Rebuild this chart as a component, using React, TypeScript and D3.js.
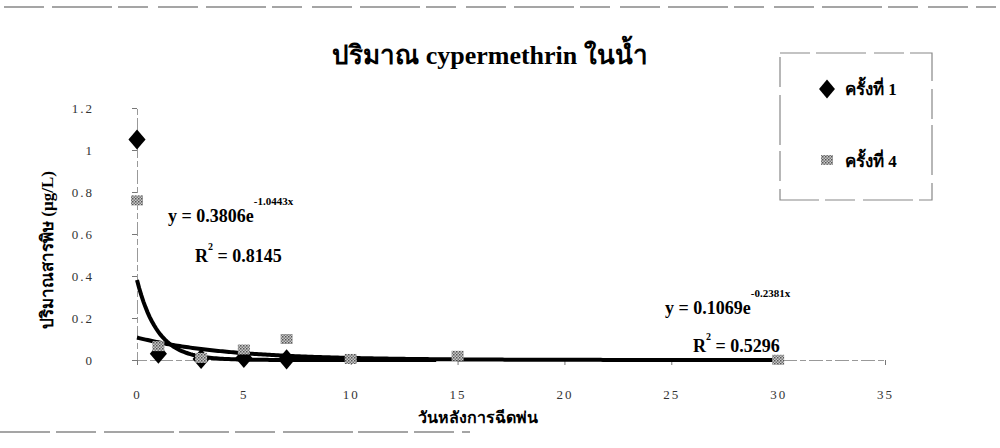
import React, { useRef, useEffect } from 'react';
import * as d3 from 'd3';

// days after spraying (x) and residue in water (y, µg/L)
const round1Days = [0, 1, 3, 5, 7];
const round1Values = [1.05, 0.03, 0.005, 0.01, 0.003];
const round4Days = [0, 1, 3, 5, 7, 10, 15, 30];
const round4Values = [0.76, 0.066, 0.01, 0.05, 0.1, 0.005, 0.02, 0.001];

const xTicks = [0, 5, 10, 15, 20, 25, 30, 35];
const yTicks = [0, 0.2, 0.4, 0.6, 0.8, 1, 1.2];

// exponential trendline coefficients printed on the chart
const fit1 = { a: 0.3806, b: -1.0443, end: 14 };
const fit4 = { a: 0.1069, b: -0.2381, end: 30 };

const App = () => {
  const chartRef = useRef<SVGSVGElement>(null);

  useEffect(() => {
    const width = 1000;
    const height = 448;
    const serif = "'Liberation Serif', 'DejaVu Serif', serif";

    const svg = d3.select(chartRef.current);
    svg.selectAll('*').remove();
    svg.attr('width', width).attr('height', height);

    const x = d3.scaleLinear().domain([0, 35]).range([137, 885]);
    const y = d3.scaleLinear().domain([0, 1.2]).range([360, 108]);

    // grainy grey fill for the second series
    const defs = svg.append('defs');
    const pat = defs.append('pattern')
      .attr('id', 'grain')
      .attr('width', 3).attr('height', 3)
      .attr('patternUnits', 'userSpaceOnUse');
    pat.append('rect').attr('width', 3).attr('height', 3).attr('fill', '#c8c8c8');
    pat.append('rect').attr('width', 1.5).attr('height', 1.5).attr('fill', '#555');
    pat.append('rect').attr('x', 1.5).attr('y', 1.5).attr('width', 1.5).attr('height', 1.5).attr('fill', '#777');

    // scan borders
    svg.append('line')
      .attr('x1', 4).attr('x2', 996).attr('y1', 7).attr('y2', 7)
      .attr('stroke', '#888').attr('stroke-width', 1.3)
      .attr('stroke-dasharray', '40 8 60 6 30 10');
    svg.append('line')
      .attr('x1', 0).attr('x2', 470).attr('y1', 432).attr('y2', 432)
      .attr('stroke', '#888').attr('stroke-width', 1.3)
      .attr('stroke-dasharray', '50 6 40 8 70 5');

    // title
    svg.append('text')
      .attr('x', 490).attr('y', 64)
      .attr('text-anchor', 'middle')
      .style('font-family', serif)
      .style('font-weight', 'bold')
      .style('font-size', '26px')
      .text('ปริมาณ cypermethrin ในน้ำ');

    // axes
    const yAxis = svg.append('g')
      .attr('transform', `translate(${x(0)},0)`)
      .call(d3.axisLeft(y).tickValues(yTicks).tickSize(5).tickPadding(38)
        .tickFormat(d => String(d)));
    const xAxis = svg.append('g')
      .attr('transform', `translate(0,${y(0)})`)
      .call(d3.axisBottom(x).tickValues(xTicks).tickSize(5).tickPadding(25));

    [yAxis, xAxis].forEach(g => {
      g.select('.domain').attr('stroke', '#999').attr('stroke-dasharray', '14 3 6 3');
      g.selectAll('.tick line').attr('stroke', '#777');
      g.selectAll('.tick text')
        .attr('fill', '#333')
        .style('font-family', serif)
        .style('font-size', '13px')
        .style('letter-spacing', '2px');
    });

    // axis titles
    svg.append('text')
      .attr('transform', `translate(53,250) rotate(-90)`)
      .attr('text-anchor', 'middle')
      .style('font-family', serif)
      .style('font-weight', 'bold')
      .style('font-size', '17px')
      .text('ปริมาณสารพิษ (µg/L)');
    svg.append('text')
      .attr('x', 478).attr('y', 423)
      .attr('text-anchor', 'middle')
      .style('font-family', serif)
      .style('font-weight', 'bold')
      .style('font-size', '16px')
      .text('วันหลังการฉีดพ่น');

    // trendlines
    const curve = (f: { a: number; b: number; end: number }) =>
      d3.range(0, f.end + 0.001, 0.1).map(t => [x(t), y(f.a * Math.exp(f.b * t))] as [number, number]);
    [fit1, fit4].forEach(f => {
      svg.append('path')
        .attr('d', d3.line()(curve(f)))
        .attr('fill', 'none')
        .attr('stroke', '#000')
        .attr('stroke-width', 4);
    });

    // markers
    const diamond = d3.symbol().type(d3.symbolDiamond).size(130);
    svg.append('g').selectAll('path')
      .data(round1Days.map((d, i) => [d, round1Values[i]]))
      .join('path')
      .attr('d', diamond)
      .attr('transform', d => `translate(${x(d[0])},${y(d[1])}) scale(1.4,0.95)`)
      .attr('fill', '#000');

    svg.append('g').selectAll('rect')
      .data(round4Days.map((d, i) => [d, round4Values[i]]))
      .join('rect')
      .attr('x', d => x(d[0]) - 6)
      .attr('y', d => y(d[1]) - 5)
      .attr('width', 12).attr('height', 10)
      .attr('fill', 'url(#grain)');

    // equations
    const eq = (px: number, py: number, main: string, sup: string, r2: string, rx: number, ry: number) => {
      const t = svg.append('text')
        .attr('x', px).attr('y', py)
        .style('font-family', serif)
        .style('font-weight', 'bold')
        .style('font-size', '18px');
      t.append('tspan').text(main);
      t.append('tspan').attr('dy', -17).style('font-size', '11px').text(sup);
      const r = svg.append('text')
        .attr('x', rx).attr('y', ry)
        .style('font-family', serif)
        .style('font-weight', 'bold')
        .style('font-size', '18px');
      r.append('tspan').text('R');
      r.append('tspan').attr('dy', -12).style('font-size', '10px').text('2');
      r.append('tspan').attr('dy', 12).text(' = ' + r2);
    };
    eq(168, 222, 'y = 0.3806e', '-1.0443x', '0.8145', 195, 262);
    eq(665, 314, 'y = 0.1069e', '-0.2381x', '0.5296', 693, 352);

    // legend
    svg.append('rect')
      .attr('x', 780).attr('y', 53).attr('width', 152).attr('height', 147)
      .attr('fill', 'none')
      .attr('stroke', '#888').attr('stroke-width', 1.2)
      .attr('stroke-dasharray', '30 6 50 8');
    const leg = svg.append('g');
    leg.append('path')
      .attr('d', diamond)
      .attr('transform', 'translate(827,89) scale(1.3,0.9)')
      .attr('fill', '#000');
    leg.append('rect')
      .attr('x', 821).attr('y', 155).attr('width', 12).attr('height', 10)
      .attr('fill', 'url(#grain)');
    [['ครั้งที่ 1', 95], ['ครั้งที่ 4', 167]].forEach(([label, ly]) => {
      leg.append('text')
        .attr('x', 845).attr('y', ly as number)
        .style('font-family', serif)
        .style('font-weight', 'bold')
        .style('font-size', '17px')
        .text(label as string);
    });
  }, []);

  return (
    <svg ref={chartRef} style={{ position: 'absolute', left: 0, top: 0, background: '#fff' }}></svg>
  );
};

export default App;
